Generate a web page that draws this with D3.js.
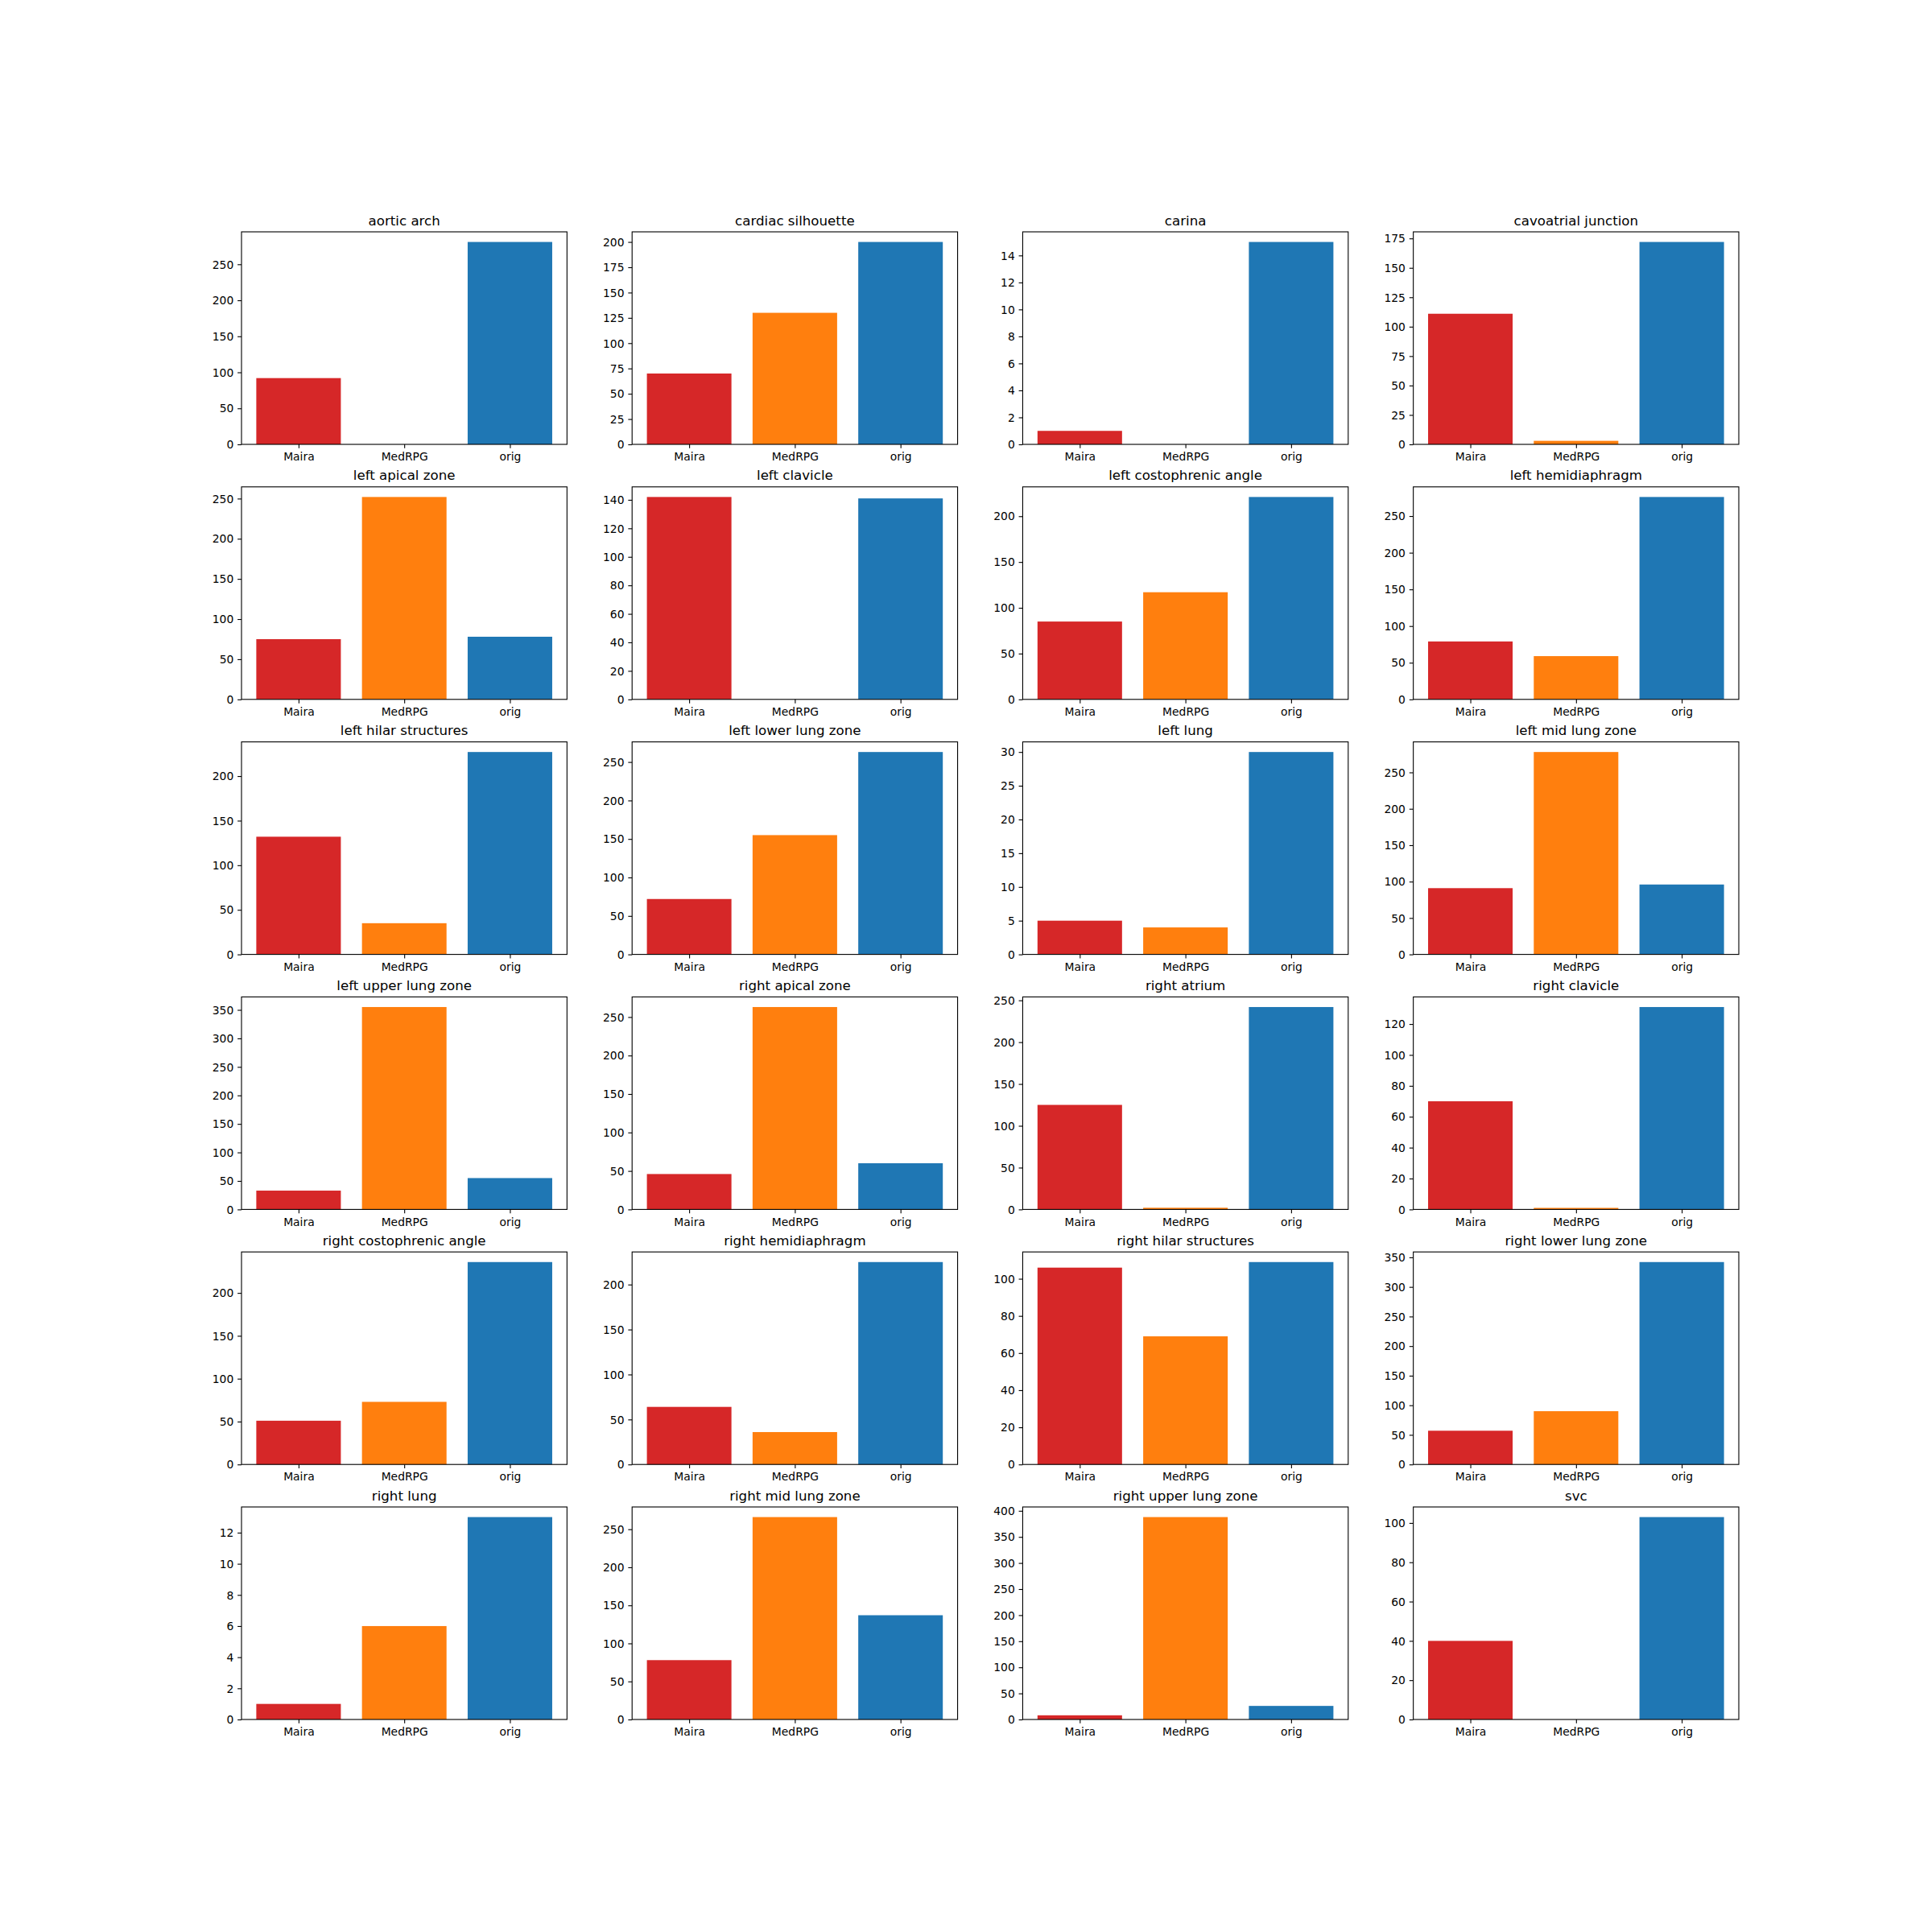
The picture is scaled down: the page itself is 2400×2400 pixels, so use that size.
<!DOCTYPE html>
<html>
<head>
<meta charset="utf-8">
<script src="https://cdn.jsdelivr.net/npm/d3@7"></script>
<style>
  html, body { margin: 0; padding: 0; background: #fff; }
  svg { display: block; }
  text { font-family: "DejaVu Sans", sans-serif; fill: #000; }
</style>
</head>
<body>
<script>
// ---- data ----
const categories = ["Maira", "MedRPG", "orig"];
const regions = [
  "aortic arch", "cardiac silhouette", "carina", "cavoatrial junction",
  "left apical zone", "left clavicle", "left costophrenic angle", "left hemidiaphragm",
  "left hilar structures", "left lower lung zone", "left lung", "left mid lung zone",
  "left upper lung zone", "right apical zone", "right atrium", "right clavicle",
  "right costophrenic angle", "right hemidiaphragm", "right hilar structures", "right lower lung zone",
  "right lung", "right mid lung zone", "right upper lung zone", "svc"
];
const maira  = [92, 70, 1, 111, 75, 142, 85, 79, 132, 72, 5, 91, 33, 46, 125, 70, 51, 64, 106, 57, 1, 78, 8, 40];
const medrpg = [0, 130, 0, 3, 252, 0, 117, 59, 35, 155, 4, 278, 355, 263, 2, 1, 73, 36, 69, 90, 6, 266, 388, 0];
const orig   = [281, 200, 15, 172, 78, 141, 221, 276, 227, 263, 30, 96, 55, 60, 242, 131, 236, 225, 109, 342, 13, 137, 26, 103];
const colors = ["#d62728", "#ff7f0e", "#1f77b4"];

// ---- layout (matplotlib-like subplot grid) ----
const W = 2400, H = 2400, DPI = 100;
const pt = DPI / 72;
const nrows = 6, ncols = 4;
const figL = 0.125 * W, figR = 0.9 * W, figT = (1 - 0.88) * H, figB = (1 - 0.11) * H;
const wspace = 0.2, hspace = 0.2;
const aw = (figR - figL) / (ncols + (ncols - 1) * wspace);
const ah = (figB - figT) / (nrows + (nrows - 1) * hspace);
const tickLen = 3.5 * pt, tickPad = 3.5 * pt, lw = 0.8 * pt;
const fs = 10 * pt, tfs = 12 * pt;

function niceTicks(vmax) {
  const nbins = 9;
  const raw = vmax / nbins;
  const scale = Math.pow(10, Math.floor(Math.log10(raw)));
  const steps = [1, 2, 2.5, 5, 10].map(s => s * scale);
  const step = steps.find(s => s >= raw - 1e-12);
  const out = [];
  for (let i = 0; i * step <= vmax + 1e-9; i++) out.push(+(i * step).toFixed(10));
  return out;
}

const svg = d3.select("body").append("svg").attr("width", W).attr("height", H);
svg.append("rect").attr("width", W).attr("height", H).attr("fill", "#fff");

regions.forEach((name, k) => {
  const r = Math.floor(k / ncols), c = k % ncols;
  const x0 = figL + c * aw * (1 + wspace);
  const y0 = figT + r * ah * (1 + hspace);
  const vals = [maira[k], medrpg[k], orig[k]];
  const vmax = d3.max(vals) * 1.05;

  const x = d3.scaleLinear().domain([-0.54, 2.54]).range([0, aw]);
  const y = d3.scaleLinear().domain([0, vmax]).range([ah, 0]);

  const g = svg.append("g").attr("transform", `translate(${x0},${y0})`);

  g.selectAll("rect.bar").data(vals).enter().append("rect")
    .attr("class", "bar")
    .attr("x", (d, i) => x(i - 0.4))
    .attr("width", (d, i) => x(i + 0.4) - x(i - 0.4))
    .attr("y", d => y(d))
    .attr("height", d => y(0) - y(d))
    .attr("fill", (d, i) => colors[i]);

  const yAxis = d3.axisLeft(y).tickValues(niceTicks(vmax)).tickFormat(d3.format("~g"))
    .tickSize(tickLen).tickPadding(tickPad);
  const ya = g.append("g").call(yAxis);
  ya.select(".domain").remove();
  ya.selectAll(".tick line").attr("stroke", "#000").attr("stroke-width", lw);
  ya.selectAll(".tick text").attr("font-size", fs).attr("font-family", "DejaVu Sans").attr("fill", "#000").attr("dy", "0.34em");

  const xAxis = d3.axisBottom(x).tickValues([0, 1, 2]).tickFormat(i => categories[i])
    .tickSize(tickLen).tickPadding(tickPad);
  const xa = g.append("g").attr("transform", `translate(0,${ah})`).call(xAxis);
  xa.select(".domain").remove();
  xa.selectAll(".tick line").attr("stroke", "#000").attr("stroke-width", lw);
  xa.selectAll(".tick text").attr("font-size", fs).attr("font-family", "DejaVu Sans").attr("fill", "#000").attr("dy", "0.76em");

  g.append("rect").attr("x", 0).attr("y", 0).attr("width", aw).attr("height", ah)
    .attr("fill", "none").attr("stroke", "#000").attr("stroke-width", lw);

  g.append("text").attr("x", aw / 2).attr("y", -6 * pt)
    .attr("text-anchor", "middle").attr("font-size", tfs).text(name);
});
</script>
</body>
</html>
